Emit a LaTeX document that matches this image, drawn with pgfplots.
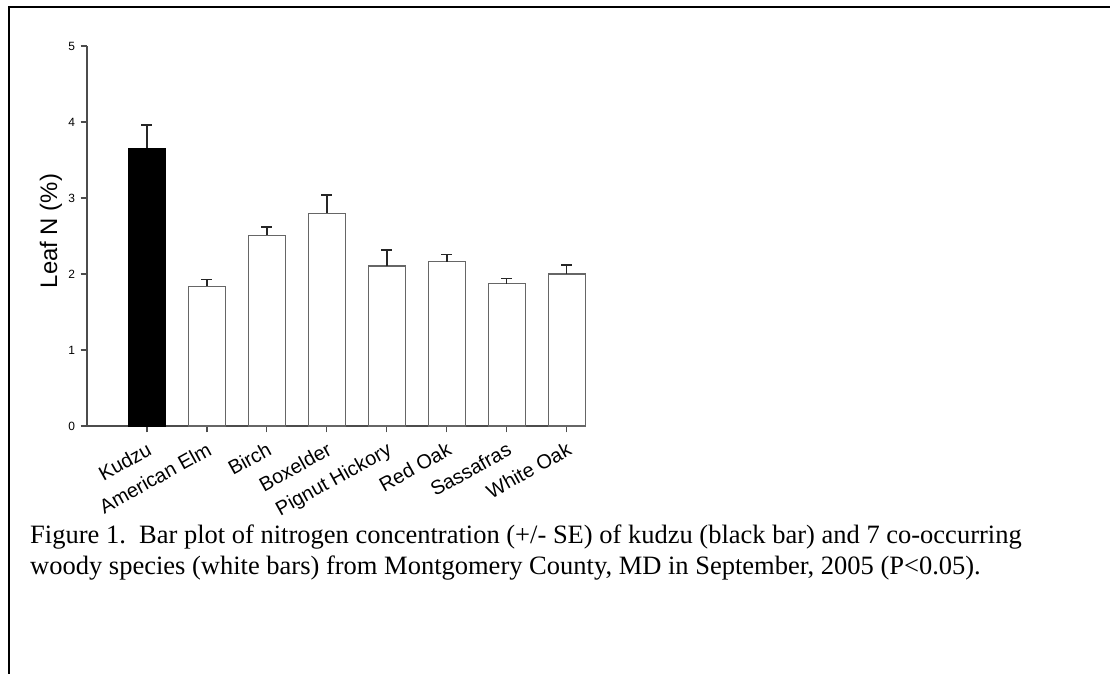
\documentclass[border=0pt]{standalone}
\usepackage{pgfplots}
\pgfplotsset{compat=1.18}
\usepackage{fontspec}
\setmainfont{Liberation Serif}
\newfontfamily\arial{Liberation Sans}
\begin{document}
\begin{tikzpicture}[x=1bp,y=1bp]
\useasboundingbox (0,0) rectangle (1110,674);
\draw[line width=2bp] (8.7,0) -- (8.7,667.3) -- (1112,667.3);
\begin{axis}[
  at={(87bp,248bp)}, anchor=south west,
  scale only axis, width=499bp, height=380bp,
  xmin=-1, xmax=7.32, ymin=0, ymax=5,
  axis lines=left,
  axis line style={-, black!70, line width=1.1bp},
  tick align=outside,
  major tick length=6.5bp,
  tick style={black!70, line width=1.1bp},
  xtick={0,...,7},
  xticklabels={Kudzu,American Elm,Birch,Boxelder,Pignut Hickory,Red Oak,Sassafras,White Oak},
  ytick={0,1,2,3,4,5},
  /pgf/number format/assume math mode=true,
  yticklabel style={font=\arial\fontsize{12}{14}\selectfont, xshift=-2bp},
  xticklabel style={font=\arial\fontsize{20}{24}\selectfont, rotate=29, anchor=north east, inner sep=1bp, xshift=-4bp, yshift=-6bp},
  ylabel={Leaf N (\%)},
  ylabel style={font=\arial\fontsize{24}{28}\selectfont, at={(axis description cs:-0.06,0.513)}, anchor=base, rotate=0},
  bar width=0.61,
  clip=false,
]
\addplot[ybar, bar shift=0pt, fill=black, draw=black,
  error bars/.cd, y dir=plus, y explicit,
  error bar style={line width=1.3bp, black!85},
  error mark options={rotate=90, mark size=5.5bp, line width=1.3bp, black!85}]
  coordinates {(0,3.66) +- (0,0.30)};
\addplot[ybar, bar shift=0pt, fill=white, draw=black!60, line width=1.2bp,
  error bars/.cd, y dir=plus, y explicit,
  error bar style={line width=1.3bp, black!85},
  error mark options={rotate=90, mark size=5.5bp, line width=1.3bp, black!85}]
  coordinates {
  (1,1.84) +- (0,0.09)
  (2,2.51) +- (0,0.11)
  (3,2.80) +- (0,0.24)
  (4,2.105) +- (0,0.21)
  (5,2.16) +- (0,0.10)
  (6,1.87) +- (0,0.07)
  (7,2.00) +- (0,0.12)
  };
\end{axis}
\node[anchor=base west, inner sep=0pt, font=\fontsize{26.6}{30}\selectfont] at (30,130.7) {Figure 1.\ \ Bar plot of nitrogen concentration (+/- SE) of kudzu (black bar) and 7 co-occurring};
\node[anchor=base west, inner sep=0pt, font=\fontsize{26.6}{30}\selectfont] at (30,99) {woody species (white bars) from Montgomery County, MD in September, 2005 (P<0.05).};
\end{tikzpicture}
\end{document}
